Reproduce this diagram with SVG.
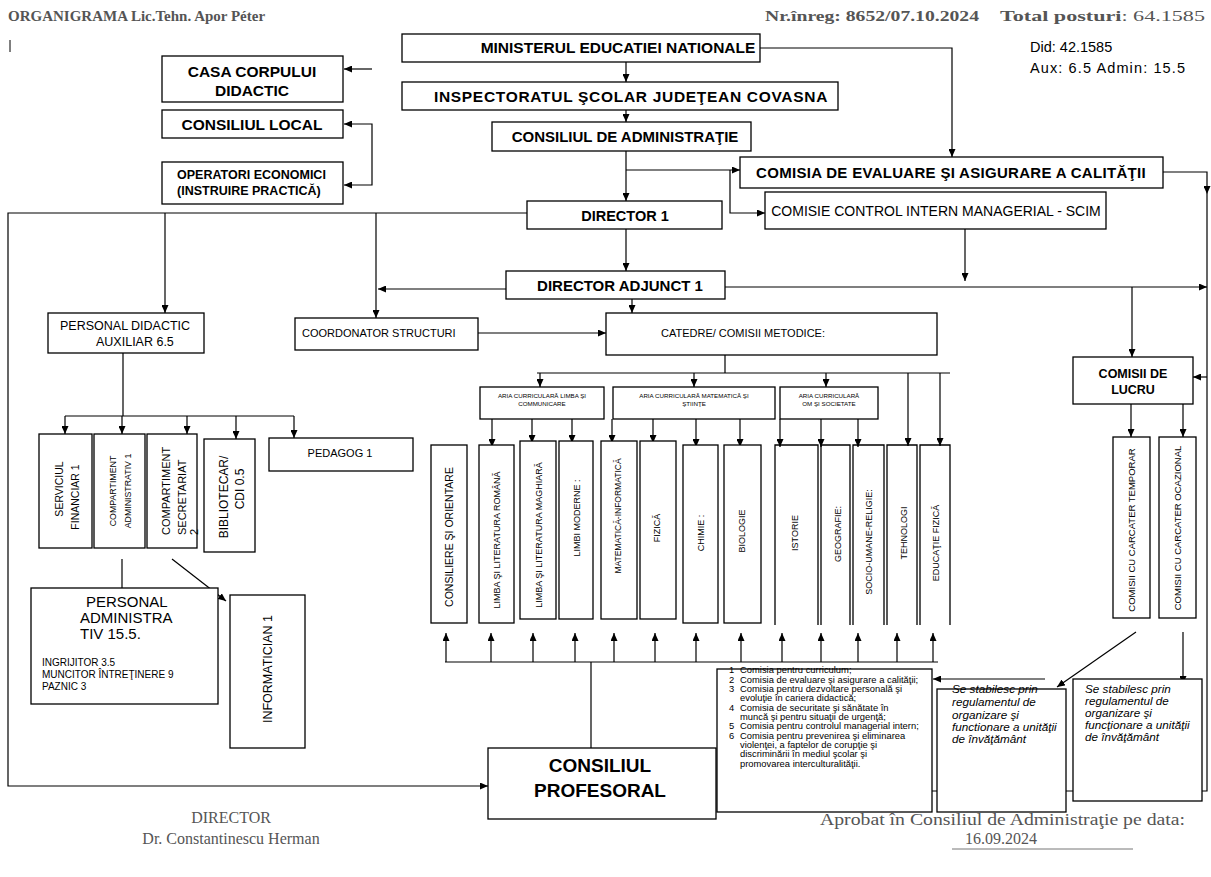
<svg xmlns="http://www.w3.org/2000/svg" width="1211" height="877" viewBox="0 0 1211 877">
<defs>
<marker id="ah" viewBox="0 0 8 7" refX="8" refY="3.5" markerWidth="8" markerHeight="7" markerUnits="userSpaceOnUse" orient="auto"><path d="M0,0 L8,3.5 L0,7 z" fill="#000"/></marker>
<style>
.bx{fill:#fff;stroke:#000;stroke-width:1.3}
.ob{fill:none;stroke:#000;stroke-width:1.3}
.c path{fill:none;stroke:#000;stroke-width:1.2}
.a{marker-end:url(#ah)}
text{font-family:"Liberation Sans",Arial,sans-serif;fill:#000}
.b{font-weight:bold}
.m{text-anchor:middle}
.sf{font-family:"Liberation Serif","Times New Roman",serif;fill:#555}
.i{font-style:italic}
</style>
</defs>
<rect width="1211" height="877" fill="#fff"/>

<g id="header">
<text class="sf b" x="8" y="21" font-size="15">ORGANIGRAMA Lic.Tehn. Apor Péter</text>
<text class="sf b" x="765" y="21" font-size="15.5" textLength="214" lengthAdjust="spacingAndGlyphs">Nr.înreg: 8652/07.10.2024</text>
<text class="sf" x="1000" y="21" font-size="15.5" textLength="205" lengthAdjust="spacingAndGlyphs"><tspan font-weight="bold">Total posturi</tspan>: 64.1585</text>
<text x="1030" y="52" font-size="14.5">Did: 42.1585</text>
<text x="1030" y="73" font-size="14.5" textLength="155" lengthAdjust="spacing">Aux: 6.5 Admin: 15.5</text>
<path d="M10,40 V52" stroke="#000" stroke-width="1"/>
</g>

<g id="connectors" class="c">
<path class="a" d="M372,69 H344"/>
<path class="a" d="M372,154 V124 H344"/>
<path class="a" d="M372,154 V185 H344"/>
<path class="a" d="M626,62 V82"/>
<path class="a" d="M626,110 V122"/>
<path class="a" d="M760,48 H952 V157"/>
<path class="a" d="M626,151 V201"/>
<path class="a" d="M626,170 H740"/>
<path class="a" d="M730,170 V213 H765"/>
<path class="a" d="M1163,172 H1207 V194"/>
<path d="M1207,194 V791 H932"/>
<path class="a" d="M965,229 V281"/>
<path class="a" d="M527,213 H8 V786 H488"/>
<path class="a" d="M165,213 V313"/>
<path class="a" d="M376,213 V318"/>
<path class="a" d="M626,229 V271"/>
<path class="a" d="M506,289 H378"/>
<path class="a" d="M725,287 H1207"/>
<path class="a" d="M632,299 V313"/>
<path class="a" d="M474,333 H606"/>
<path class="a" d="M1132,287 V357"/>
<path class="a" d="M1207,377 H1193"/>
<path class="a" d="M1131,404 V437"/>
<path class="a" d="M1183,404 V437"/>
<path class="a" d="M1136,632 L1057,687"/>
<path class="a" d="M1183,632 V684"/>
<path class="a" d="M1045,679 H933"/>
<path d="M725,355 V373 M537,373 H950"/>
<path class="a" d="M540,373 V387"/>
<path class="a" d="M694,373 V387"/>
<path class="a" d="M826,373 V387"/>
<path class="a" d="M908,373 V446"/>
<path class="a" d="M940,373 V446"/>
<path class="a" d="M492,419 V447"/>
<path class="a" d="M532,419 V443"/>
<path class="a" d="M572,419 V443"/>
<path class="a" d="M612,419 V443"/>
<path class="a" d="M653,419 V443"/>
<path class="a" d="M696,419 V447"/>
<path class="a" d="M740,419 V447"/>
<path class="a" d="M780,419 V447"/>
<path class="a" d="M821,419 V447"/>
<path class="a" d="M858,419 V447"/>
<path d="M445,662 H938 M591,662 V748"/>
<path class="a" d="M446,662 V633"/>
<path class="a" d="M491,662 V633"/>
<path class="a" d="M533,662 V633"/>
<path class="a" d="M575,662 V633"/>
<path class="a" d="M614,662 V633"/>
<path class="a" d="M655,662 V633"/>
<path class="a" d="M696,662 V633"/>
<path class="a" d="M741,662 V633"/>
<path class="a" d="M782,662 V633"/>
<path class="a" d="M821,662 V633"/>
<path class="a" d="M858,662 V633"/>
<path class="a" d="M897,662 V633"/>
<path class="a" d="M933,662 V633"/>
<path d="M123,353 V416 M65,416 H294"/>
<path class="a" d="M65,416 V434"/>
<path class="a" d="M122,416 V434"/>
<path class="a" d="M187,416 V434"/>
<path class="a" d="M236,416 V439"/>
<path class="a" d="M294,416 V438"/>
<path class="a" d="M122,559 V597"/>
<path class="a" d="M172,559 L226,601"/>
</g>

<g id="casa"><rect class="bx" x="162" y="56" width="181" height="46"/>
<text class="b m" x="252" y="77" font-size="15.5">CASA CORPULUI</text>
<text class="b m" x="252" y="96" font-size="15.5">DIDACTIC</text></g>
<g id="consiliul-local"><rect class="bx" x="162" y="110" width="181" height="28"/>
<text class="b m" x="252" y="130" font-size="15.5">CONSILIUL LOCAL</text></g>
<g id="operatori"><rect class="bx" x="162" y="162" width="181" height="42"/>
<text class="b" x="177" y="179" font-size="12.5">OPERATORI ECONOMICI</text>
<text class="b" x="177" y="195" font-size="12.5">(INSTRUIRE PRACTICĂ)</text></g>

<g id="ministerul"><rect class="bx" x="402" y="34" width="358" height="28"/>
<text class="b m" x="618" y="53" font-size="15.5">MINISTERUL EDUCATIEI NATIONALE</text></g>
<g id="inspectoratul"><rect class="bx" x="402" y="82" width="436" height="28"/>
<text class="b m" x="631" y="102" font-size="15.5" letter-spacing="0.7">INSPECTORATUL ŞCOLAR JUDEŢEAN COVASNA</text></g>
<g id="consiliul-admin"><rect class="bx" x="492" y="122" width="259" height="29"/>
<text class="b m" x="625" y="142" font-size="15">CONSILIUL DE ADMINISTRAŢIE</text></g>
<g id="comisia-evaluare"><rect class="bx" x="740" y="157" width="423" height="31"/>
<text class="b m" x="951" y="178" font-size="15" letter-spacing="0.3">COMISIA DE EVALUARE ŞI ASIGURARE A CALITĂŢII</text></g>
<g id="comisie-scim"><rect class="bx" x="765" y="192" width="341" height="37"/>
<text class="m" x="936" y="216" font-size="14">COMISIE CONTROL INTERN MANAGERIAL - SCIM</text></g>
<g id="director"><rect class="bx" x="527" y="201" width="195" height="28"/>
<text class="b m" x="625" y="221" font-size="14.5">DIRECTOR 1</text></g>
<g id="director-adjunct"><rect class="bx" x="506" y="271" width="219" height="28"/>
<text class="b m" x="620" y="291" font-size="15">DIRECTOR ADJUNCT  1</text></g>

<g id="personal-didactic-auxiliar"><rect class="bx" x="48" y="313" width="156" height="40"/>
<text x="60" y="330" font-size="12.5">PERSONAL DIDACTIC</text>
<text x="96" y="346" font-size="12.5">AUXILIAR 6.5</text></g>
<g id="coordonator"><rect class="bx" x="295" y="318" width="183" height="32"/>
<text x="302" y="337" font-size="11">COORDONATOR STRUCTURI</text></g>
<g id="catedre"><rect class="bx" x="606" y="313" width="331" height="42"/>
<text class="m" x="743" y="337" font-size="11">CATEDRE/ COMISII METODICE:</text></g>
<g id="comisii-lucru"><rect class="bx" x="1073" y="357" width="120" height="47"/>
<text class="b m" x="1133" y="378" font-size="12.5">COMISII DE</text>
<text class="b m" x="1133" y="394" font-size="12.5">LUCRU</text></g>

<g id="aria-limba"><rect class="bx" x="480" y="387" width="124" height="32"/>
<text class="m" x="542" y="398" font-size="6.2">ARIA CURRICULARĂ LIMBA ŞI</text>
<text class="m" x="542" y="406" font-size="6.2">COMMUNICARE</text></g>
<g id="aria-matematica"><rect class="bx" x="613" y="387" width="162" height="32"/>
<text class="m" x="694" y="398" font-size="6.2">ARIA CURRICULARĂ MATEMATICĂ ŞI</text>
<text class="m" x="694" y="406" font-size="6.2">ŞTIINŢE</text></g>
<g id="aria-om"><rect class="bx" x="780" y="387" width="98" height="32"/>
<text class="m" x="829" y="398" font-size="6.2">ARIA CURRICULARĂ</text>
<text class="m" x="829" y="406" font-size="6.2">OM ŞI SOCIETATE</text></g>

<g id="col-consiliere"><rect class="bx" x="431" y="445" width="36" height="178"/>
<text class="m" transform="translate(453,537) rotate(-90)" font-size="10.5">CONSILIERE ŞI ORIENTARE</text></g>
<g id="col-romana"><rect class="bx" x="479" y="445" width="35" height="178"/>
<text class="m" transform="translate(500,540) rotate(-90)" font-size="9">LIMBA ŞI LITERATURA ROMÂNĂ</text></g>
<g id="col-maghiara"><rect class="bx" x="520" y="441" width="36" height="178"/>
<text class="m" transform="translate(542,535) rotate(-90)" font-size="9">LIMBA ŞI LITERATURA MAGHIARĂ</text></g>
<g id="col-moderne"><rect class="bx" x="559" y="441" width="34" height="178"/>
<text class="m" transform="translate(580,518) rotate(-90)" font-size="9">LIMBI MODERNE :</text></g>
<g id="col-matematica"><rect class="bx" x="601" y="441" width="36" height="178"/>
<text class="m" transform="translate(621,516) rotate(-90)" font-size="8.5">MATEMATICĂ-INFORMATICĂ</text></g>
<g id="col-fizica"><rect class="bx" x="640" y="441" width="36" height="178"/>
<text class="m" transform="translate(660,528) rotate(-90)" font-size="9">FIZICĂ</text></g>
<g id="col-chimie"><rect class="bx" x="683" y="445" width="35" height="178"/>
<text class="m" transform="translate(704,533) rotate(-90)" font-size="9">CHIMIE :</text></g>
<g id="col-biologie"><rect class="bx" x="724" y="445" width="37" height="178"/>
<text class="m" transform="translate(745,531) rotate(-90)" font-size="9">BIOLOGIE</text></g>
<g id="col-istorie"><path class="ob" d="M775,625 V445 H818 V625"/>
<text class="m" transform="translate(798,533) rotate(-90)" font-size="9">ISTORIE</text></g>
<g id="col-geografie"><path class="ob" d="M821,625 V445 H850 V625"/>
<text class="m" transform="translate(841,534) rotate(-90)" font-size="9">GEOGRAFIE:</text></g>
<g id="col-socio"><path class="ob" d="M853,625 V445 H884 V625"/>
<text class="m" transform="translate(872,542) rotate(-90)" font-size="9">SOCIO-UMANE-RELIGIE:</text></g>
<g id="col-tehnologi"><path class="ob" d="M887,625 V445 H917 V625"/>
<text class="m" transform="translate(907,533) rotate(-90)" font-size="9">TEHNOLOGI</text></g>
<g id="col-educatie-fizica"><path class="ob" d="M920,625 V445 H950 V625"/>
<text class="m" transform="translate(939,543) rotate(-90)" font-size="9">EDUCAŢIE FIZICĂ</text></g>

<g id="comisii-temporar"><rect class="bx" x="1113" y="437" width="37" height="181"/>
<text class="m" transform="translate(1135,530) rotate(-90)" font-size="9.5">COMISII CU CARCATER TEMPORAR</text></g>
<g id="comisii-ocazional"><rect class="bx" x="1159" y="437" width="37" height="181"/>
<text class="m" transform="translate(1181,528) rotate(-90)" font-size="9.5">COMISII CU CARCATER OCAZIONAL</text></g>

<g id="serviciul-financiar"><rect class="bx" x="39" y="434" width="53" height="114"/>
<text class="m" transform="translate(63,489) rotate(-90)" font-size="10.5">SERVICIUL</text>
<text class="m" transform="translate(79,497) rotate(-90)" font-size="10.5">FINANCIAR 1</text></g>
<g id="compartiment-administrativ"><rect class="bx" x="94" y="434" width="51" height="114"/>
<text class="m" transform="translate(116,491) rotate(-90)" font-size="8.8">COMPARTIMENT</text>
<text class="m" transform="translate(131,491) rotate(-90)" font-size="8.8">ADMINISTRATIV 1</text></g>
<g id="compartiment-secretariat"><rect class="bx" x="147" y="434" width="50" height="114"/>
<text transform="translate(170,535) rotate(-90)" font-size="11">COMPARTIMENT</text>
<text transform="translate(186,535) rotate(-90)" font-size="11">SECRETARIAT</text>
<text transform="translate(198,535) rotate(-90)" font-size="11">2</text></g>
<g id="bibliotecar"><rect class="bx" x="204" y="439" width="51" height="113"/>
<text class="m" transform="translate(228,497) rotate(-90)" font-size="12">BIBLIOTECAR/</text>
<text class="m" transform="translate(244,489) rotate(-90)" font-size="12">CDI 0.5</text></g>
<g id="pedagog"><rect class="bx" x="269" y="438" width="144" height="33"/>
<text class="m" x="340" y="457" font-size="11">PEDAGOG 1</text></g>

<g id="personal-administrativ"><rect class="bx" x="31" y="588" width="187" height="116"/>
<text x="86" y="607" font-size="15">PERSONAL</text>
<text x="80" y="623" font-size="15">ADMINISTRA</text>
<text x="80" y="639" font-size="15">TIV 15.5.</text>
<text x="42" y="666" font-size="10">INGRIJITOR 3.5</text>
<text x="42" y="678" font-size="10">MUNCITOR ÎNTREŢINERE 9</text>
<text x="42" y="690" font-size="10">PAZNIC 3</text></g>
<g id="informatician"><rect class="bx" x="230" y="595" width="75" height="153"/>
<text class="m" transform="translate(272,669) rotate(-90)" font-size="12.5">INFORMATICIAN 1</text></g>

<g id="consiliul-profesoral"><rect class="bx" x="488" y="748" width="228" height="71"/>
<text class="b m" x="600" y="772" font-size="19">CONSILIUL</text>
<text class="b m" x="600" y="797" font-size="19">PROFESORAL</text></g>

<g id="lista-comisii"><rect class="bx" x="717" y="669" width="215" height="143"/>
<g font-size="9.4">
<text x="729" y="673">1</text><text x="740" y="673">Comisia pentru curriculum;</text>
<text x="729" y="682.5">2</text><text x="740" y="682.5">Comisia de evaluare şi asigurare a calităţii;</text>
<text x="729" y="692">3</text><text x="740" y="692">Comisia pentru dezvoltare personală şi</text>
<text x="740" y="701">evoluţie în cariera didactică;</text>
<text x="729" y="710.5">4</text><text x="740" y="710.5">Comisia de securitate şi sănătate în</text>
<text x="740" y="720">muncă şi pentru situaţii de urgenţă;</text>
<text x="729" y="729">5</text><text x="740" y="729">Comisia pentru controlul managerial intern;</text>
<text x="729" y="738.5">6</text><text x="740" y="738.5">Comisia pentru prevenirea şi eliminarea</text>
<text x="740" y="748">violenţei, a faptelor de corupţie şi</text>
<text x="740" y="757">discriminării în mediul şcolar şi</text>
<text x="740" y="766.5">promovarea interculturalităţii.</text>
</g></g>

<g id="regulament-1"><rect class="bx" x="937" y="689" width="129" height="123"/>
<g class="i" font-size="11.7">
<text x="952" y="693">Se stabilesc prin</text>
<text x="952" y="706">regulamentul de</text>
<text x="952" y="719">organizare şi</text>
<text x="952" y="731">functionare a unităţii</text>
<text x="952" y="743">de învăţământ</text></g></g>
<g id="regulament-2"><rect class="bx" x="1073" y="679" width="129" height="122"/>
<g class="i" font-size="11.7">
<text x="1085" y="693">Se stabilesc prin</text>
<text x="1085" y="705">regulamentul de</text>
<text x="1085" y="717">organizare şi</text>
<text x="1085" y="729">funcţionare a unităţii</text>
<text x="1085" y="741">de învăţământ</text></g></g>

<g id="footer">
<text class="sf m" x="231" y="823" font-size="16">DIRECTOR</text>
<text class="sf m" x="231" y="844" font-size="16">Dr. Constantinescu Herman</text>
<text class="sf" x="820" y="825" font-size="16" textLength="365" lengthAdjust="spacingAndGlyphs">Aprobat în Consiliul de Administraţie pe data:</text>
<text class="sf m" x="1001" y="844" font-size="16">16.09.2024</text>
<path d="M952,849 H1133" stroke="#777" stroke-width="1"/>
</g>
</svg>
